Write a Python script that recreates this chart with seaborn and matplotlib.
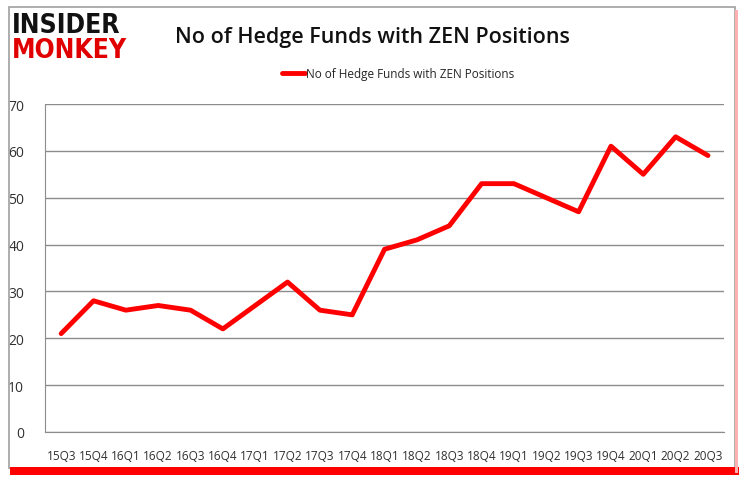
import numpy as np
import pandas as pd
import matplotlib
matplotlib.use("Agg")
import matplotlib.pyplot as plt
import seaborn as sns
from matplotlib.patches import Rectangle

# data
quarters = ["15Q3", "15Q4", "16Q1", "16Q2", "16Q3", "16Q4", "17Q1", "17Q2", "17Q3", "17Q4",
            "18Q1", "18Q2", "18Q3", "18Q4", "19Q1", "19Q2", "19Q3", "19Q4", "20Q1", "20Q2", "20Q3"]
funds = [21, 28, 26, 27, 26, 22, 27, 32, 26, 25,
         39, 41, 44, 53, 53, 50, 47, 61, 55, 63, 59]
series_name = "No of Hedge Funds with ZEN Positions"

df = pd.DataFrame({"pos": np.arange(len(quarters)), "funds": funds})

sns.set_style("white")
plt.rcParams['font.family'] = ['Open Sans', 'DejaVu Sans']

fig = plt.figure(figsize=(7.45, 4.81), dpi=100)
ax = fig.add_axes([0.0604, 0.0998, 0.9116, 0.6819])

# frame around the whole picture, with red shadow
fig.patches.append(Rectangle((0.012, 0.025), 0.975, 0.958, transform=fig.transFigure,
                             fill=False, edgecolor="#a0a0a0", linewidth=1.2, zorder=0))
fig.patches.append(Rectangle((0.014, 0.010), 0.978, 0.017, transform=fig.transFigure,
                             facecolor="#ff0000", edgecolor="none", zorder=0))
fig.patches.append(Rectangle((0.986, 0.015), 0.005, 0.962, transform=fig.transFigure,
                             facecolor="#ffb0b0", edgecolor="none", zorder=0))

sns.lineplot(data=df, x="pos", y="funds", color="#ff0000", linewidth=3.5,
             label=series_name, ax=ax)

ax.set_xlim(-0.5, len(quarters) - 0.5)
ax.set_ylim(0, 70)
ax.set_yticks(range(0, 71, 10))
ax.set_xticks(df["pos"])
ax.set_xticklabels(quarters, fontsize=8.5, color="#303030")
ax.set_xticks(np.arange(-0.5, len(quarters), 1), minor=True)
ax.tick_params(axis="x", which="major", length=0, pad=12)
ax.tick_params(axis="x", which="minor", length=5, color="#888888", direction="out")
ax.tick_params(axis="y", length=5, color="#888888", labelsize=10, labelcolor="#303030", pad=10)
ax.set_xlabel("")
ax.set_ylabel("")
ax.grid(axis="y", color="#8c8c8c", linewidth=1)
for s in ["top", "right"]:
    ax.spines[s].set_visible(False)
ax.spines["left"].set_color("#8c8c8c")
ax.spines["bottom"].set_color("#8c8c8c")

leg = ax.legend(loc="lower center", bbox_to_anchor=(0.52, 1.04), frameon=False,
                fontsize=8.5, handlelength=2.0, handletextpad=0.1)

fig.text(0.50, 0.922, series_name, ha="center", va="center", fontsize=15.5,
         fontweight="semibold", color="#111111")

# logo
fig.text(0.016, 0.945, "INSIDER", ha="left", va="center", fontsize=19, fontweight="heavy",
         color="#111111", family=["DejaVu Sans"], stretch="condensed")
fig.text(0.016, 0.893, "MONKEY", ha="left", va="center", fontsize=19, fontweight="heavy",
         color="#e00000", family=["DejaVu Sans"], stretch="condensed")

fig.savefig("out.png", dpi=100, facecolor="white")
